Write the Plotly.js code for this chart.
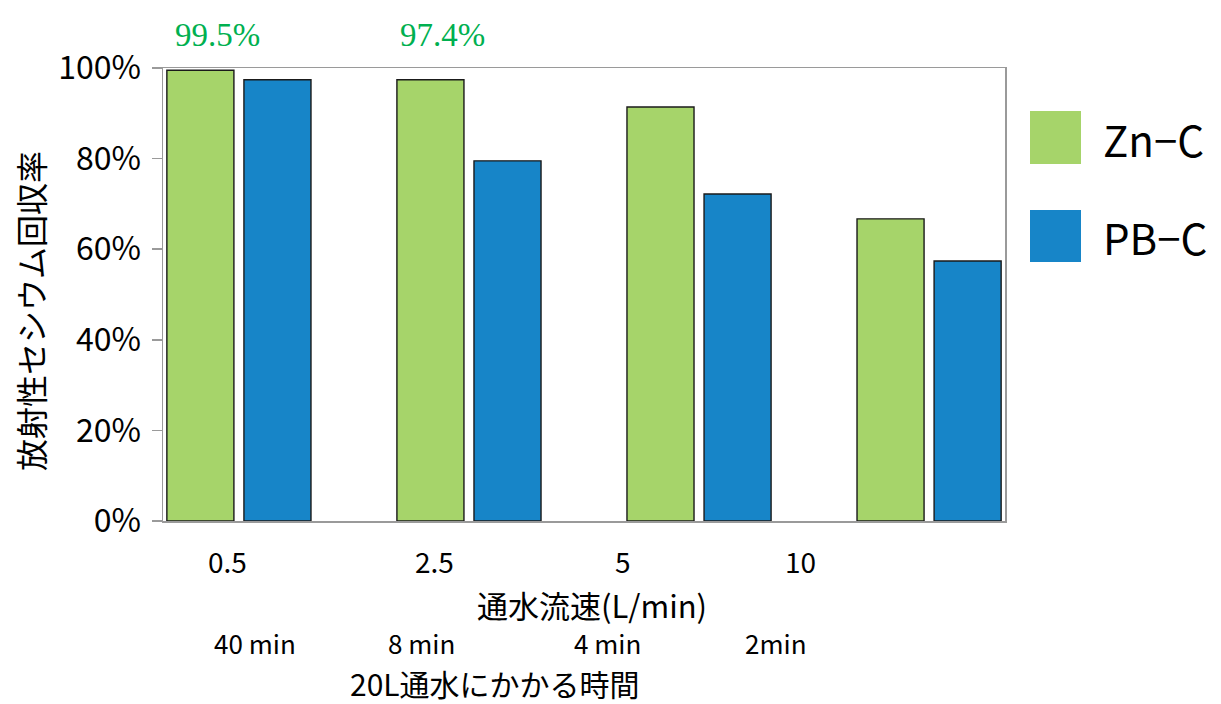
<!DOCTYPE html>
<html>
<head>
<meta charset="utf-8">
<script src="https://cdn.plot.ly/plotly-3.0.1.min.js"></script>
<style>
  html, body { margin: 0; padding: 0; background: #fff; }
  #chart { width: 1221px; height: 704px; }
</style>
</head>
<body>
<div id="chart"></div>
<script>
// Flow rates (L/min) and the time needed to pass 20 L of water
const flowRates = ['0.5', '2.5', '5', '10'];
const passTimes = ['40 min', '8 min', '4 min', '2min'];

// Radioactive cesium recovery rate (%) per adsorbent
const znC = [99.5, 97.4, 91.4, 66.7];
const pbC = [97.4, 79.5, 72.2, 57.4];

// y-axis ticks
const yTickVals = [0, 20, 40, 60, 80, 100];
const yTickText = ['0%', '20%', '40%', '60%', '80%', '100%'];

const seriesNames = ['Zn\u2212C', 'PB\u2212C'];
const seriesColors = ['#a6d46a', '#1785c8'];
const valueLabelColor = '#00b050';

const JP = '"Noto Sans CJK JP", "Noto Sans", sans-serif';

// plot area in pixels
const W = 1221, H = 704;
const L = 163, R = 1005, T = 68, B = 521;
const px = v => (v - L) / (R - L);
const py = v => (B - v) / (B - T);

const traces = [znC, pbC].map((vals, i) => ({
  type: 'bar',
  name: seriesNames[i],
  x: flowRates,
  y: vals,
  marker: { color: seriesColors[i], line: { color: '#1a1a1a', width: 1.4 } },
  hoverinfo: 'x+y+name',
  showlegend: false
}));

const annotations = [];

// flow-rate labels under the axis
const flowX = [227, 434, 623, 800];
flowRates.forEach((t, i) => annotations.push({
  xref: 'paper', yref: 'paper', x: px(flowX[i]), y: py(561),
  text: t, showarrow: false, xanchor: 'center', yanchor: 'middle',
  font: { family: JP, size: 28, color: '#000' }
}));

// time labels
const timeX = [255, 421, 607, 776];
passTimes.forEach((t, i) => annotations.push({
  xref: 'paper', yref: 'paper', x: px(timeX[i]), y: py(642),
  text: t, showarrow: false, xanchor: 'center', yanchor: 'middle',
  font: { family: JP, size: 26, color: '#000' }
}));

// axis titles
annotations.push({
  xref: 'paper', yref: 'paper', x: px(592), y: py(604),
  text: '通水流速(L/min)', showarrow: false, xanchor: 'center', yanchor: 'middle',
  font: { family: JP, size: 31, color: '#000' }
});
annotations.push({
  xref: 'paper', yref: 'paper', x: px(495), y: py(683),
  text: '20L通水にかかる時間', showarrow: false, xanchor: 'center', yanchor: 'middle',
  font: { family: JP, size: 30, color: '#000' }
});
annotations.push({
  xref: 'paper', yref: 'paper', x: px(30), y: py(311),
  text: '放射性セシウム回収率', showarrow: false, textangle: -90,
  xanchor: 'center', yanchor: 'middle',
  font: { family: JP, size: 32, color: '#000' }
});

// value callouts above the first two Zn-C bars
const calloutX = [217, 442];
calloutX.forEach((x, i) => annotations.push({
  xref: 'paper', yref: 'paper', x: px(x), y: py(35),
  text: znC[i].toFixed(1) + '%', showarrow: false, xanchor: 'center', yanchor: 'middle',
  font: { family: '"Liberation Serif", "DejaVu Serif", serif', size: 33, color: valueLabelColor }
}));

// legend: large colour squares with names
const legendRows = [{ y0: 111, y1: 164, ty: 138 }, { y0: 210, y1: 262, ty: 236 }];
const shapes = [];
legendRows.forEach((r, i) => {
  shapes.push({
    type: 'rect', xref: 'paper', yref: 'paper',
    x0: px(1030), x1: px(1081), y0: py(r.y1), y1: py(r.y0),
    fillcolor: seriesColors[i], line: { width: 0 }
  });
  annotations.push({
    xref: 'paper', yref: 'paper', x: px(1101), y: py(r.ty),
    text: seriesNames[i], showarrow: false, xanchor: 'left', yanchor: 'middle',
    font: { family: JP, size: 42, color: '#000' }
  });
});

const layout = {
  width: W, height: H,
  margin: { l: L, r: W - R, t: T, b: H - B, pad: 0 },
  paper_bgcolor: '#fff', plot_bgcolor: '#fff',
  barmode: 'group', bargap: 0.33, bargroupgap: 0.13,
  showlegend: false,
  xaxis: {
    type: 'category', categoryorder: 'array', categoryarray: flowRates,
    range: [-0.33, 3.33], showticklabels: false, ticks: '',
    showline: true, linecolor: '#9a9a9a', linewidth: 1.5, mirror: true,
    showgrid: false, zeroline: false, fixedrange: true
  },
  yaxis: {
    range: [0, 100], tickmode: 'array', tickvals: yTickVals, ticktext: yTickText,
    ticks: 'outside', ticklen: 10, tickwidth: 1.5, tickcolor: '#9a9a9a',
    ticklabelstandoff: 4,
    tickfont: { family: JP, size: 32, color: '#000' },
    showline: true, linecolor: '#9a9a9a', linewidth: 1.5, mirror: true,
    showgrid: false, zeroline: false, fixedrange: true
  },
  annotations: annotations,
  shapes: shapes
};

Plotly.newPlot('chart', traces, layout, { displayModeBar: false, staticPlot: true });
</script>
</body>
</html>
